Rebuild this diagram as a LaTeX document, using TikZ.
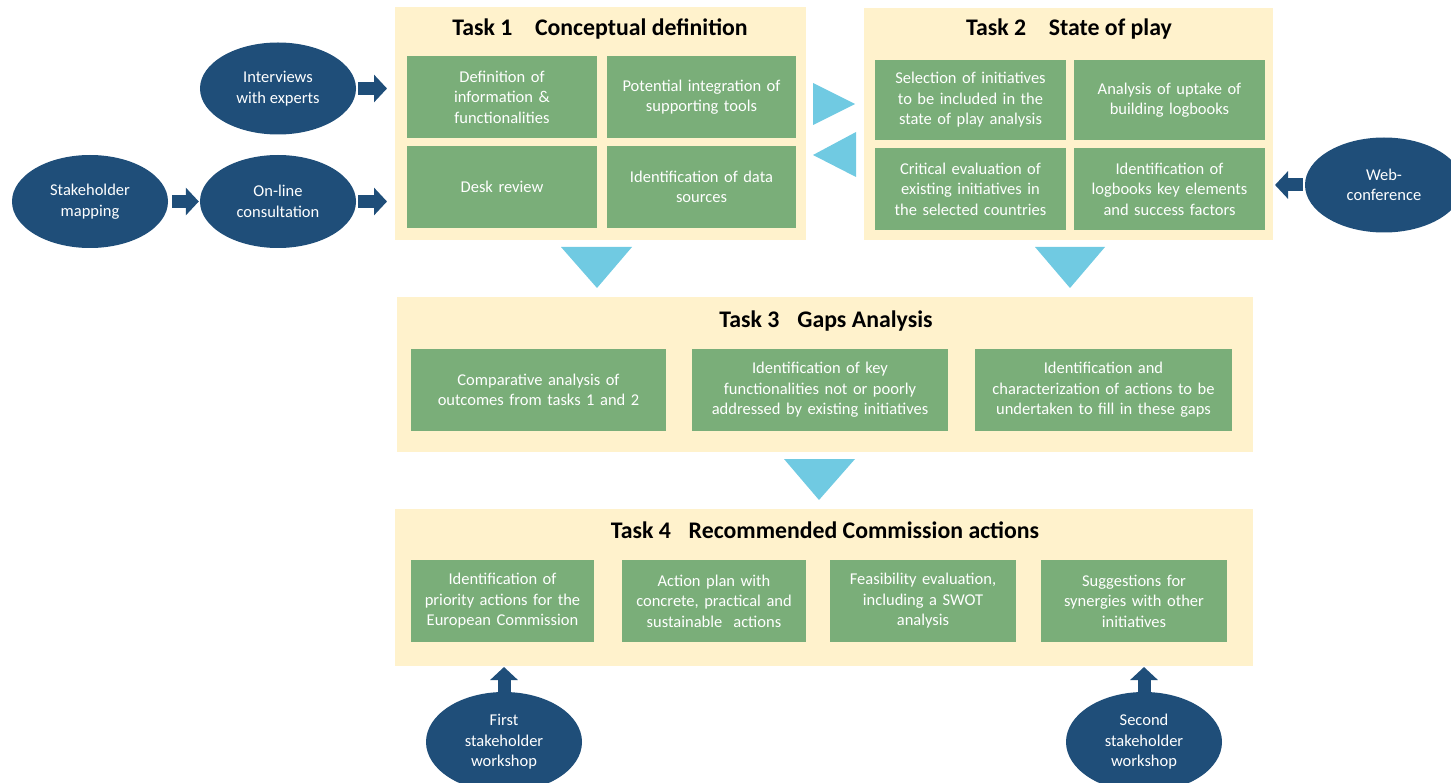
\documentclass[tikz,border=0pt]{standalone}
\usepackage{fontspec}
\setmainfont{Carlito}
\usetikzlibrary{arrows.meta,positioning,shapes.geometric}
\definecolor{taskbg}{HTML}{FFF2CC}
\definecolor{subgreen}{HTML}{7AAE79}
\definecolor{srcblue}{HTML}{1F4E79}
\definecolor{flowcyan}{HTML}{70CAE2}
\tikzset{
  taskbox/.style={fill=taskbg,anchor=north west,inner sep=0pt,outer sep=0pt},
  tasktitle/.style={font=\bfseries\fontsize{23.8}{28}\selectfont,text=black,inner sep=0pt,anchor=base},
  subbox/.style={fill=subgreen,text=white,align=center,anchor=north west,inner xsep=5pt,inner ysep=0pt,outer sep=0pt,minimum height=82pt,font=\fontsize{16.5}{20.5}\selectfont},
  source/.style={ellipse,fill=srcblue,text=white,align=center,inner sep=0pt,minimum width=156pt,minimum height=92pt,font=\fontsize{16.5}{20.5}\selectfont},
  blockarrow/.style={-{Triangle[length=13pt,width=27pt]},line width=13pt,draw=srcblue},
  flowtri/.style={fill=flowcyan}
}

\begin{document}
\begin{tikzpicture}[x=1pt,y=-1pt]
  \useasboundingbox (0,0) rectangle (1451,783);

  % task frames
  \node (task1) [taskbox,minimum width=411pt,minimum height=233pt] at (395,7) {};
  \node (task2) [taskbox,minimum width=409pt,minimum height=232pt] at (864,8) {};
  \node (task3) [taskbox,minimum width=856pt,minimum height=155pt] at (397,297) {};
  \node (task4) [taskbox,minimum width=858pt,minimum height=157pt] at (395,509) {};

  \node (title1) [tasktitle] at (600,35.5) {Task 1\hspace{0.95em}Conceptual definition};
  \node (title2) [tasktitle] at (1069,35.5) {Task 2\hspace{0.95em}State of play};
  \node (title3) [tasktitle] at (826,327.5) {Task 3\hspace{0.75em}Gaps Analysis};
  \node (title4) [tasktitle] at (825,538.5) {Task 4\hspace{0.75em}Recommended Commission actions};

  % task 1
  \node (definfo) [subbox,text width=180pt] at (407,56) {Definition of\\information \&\\functionalities};
  \node (integ) [subbox,text width=179pt] at (607,56) {Potential integration of\\supporting tools};
  \node (desk) [subbox,text width=180pt] at (407,146) {Desk review};
  \node (datasrc) [subbox,text width=179pt] at (607,146) {Identification of data\\sources};

  % task 2
  \node (select) [subbox,text width=181pt,minimum height=80pt] at (875,60) {Selection of initiatives\\to be included in the\\state of play analysis};
  \node (uptake) [subbox,text width=181pt,minimum height=80pt] at (1074,60) {Analysis of uptake of\\building logbooks};
  \node (critic) [subbox,text width=181pt] at (875,148) {Critical evaluation of\\existing initiatives in\\the selected countries};
  \node (keyelem) [subbox,text width=181pt] at (1074,148) {Identification of\\logbooks key elements\\and success factors};

  % task 3
  \node (compar) [subbox,text width=245pt] at (411,349) {Comparative analysis of\\outcomes from tasks 1 and 2};
  \node (keyfunc) [subbox,text width=246pt] at (692,349) {Identification of key\\functionalities not or poorly\\addressed by existing initiatives};
  \node (charact) [subbox,text width=247pt] at (975,349) {Identification and\\characterization of actions to be\\undertaken to fill in these gaps};

  % task 4
  \node (priority) [subbox,text width=173pt] at (411,560) {Identification of\\priority actions for the\\European Commission};
  \node (actplan) [subbox,text width=174pt] at (622,560) {Action plan with\\concrete, practical and\\sustainable\ \ actions};
  \node (feasib) [subbox,text width=176pt] at (830,560) {Feasibility evaluation,\\including a SWOT\\analysis};
  \node (synerg) [subbox,text width=176pt] at (1041,560) {Suggestions for\\synergies with other\\initiatives};

  % inputs
  \node (interv) [source] at (278,88.5) {Interviews\\with experts};
  \node (stake) [source,minimum height=93pt] at (90,201.5) {Stakeholder\\mapping};
  \node (online) [source,minimum height=93pt] at (278,201.5) {On-line\\consultation};
  \node (webconf) [source,minimum width=158pt,minimum height=95pt] at (1384,185) {Web-\\conference};
  \node (work1) [source,minimum width=156pt,minimum height=100pt] at (504,742) {First\\stakeholder\\workshop};
  \node (work2) [source,minimum width=156pt,minimum height=100pt] at (1144,742) {Second\\stakeholder\\workshop};

  \draw[blockarrow,shorten <=2pt,shorten >=8pt] (interv) -- (interv -| task1.west);
  \draw[blockarrow,shorten <=2pt,shorten >=8pt] (online) -- (online -| task1.west);
  \draw[blockarrow,shorten <=4pt,shorten >=1pt] (stake) -- (online);
  \draw[blockarrow,shorten <=2pt,shorten >=2pt] (webconf) -- (webconf -| task2.east);
  \draw[blockarrow,shorten >=1pt] (work1) -- (work1 |- task4.south);
  \draw[blockarrow,shorten >=1pt] (work2) -- (work2 |- task4.south);

  % flow between tasks
  \fill[flowtri] (813,83) -- (855,104) -- (813,125) -- cycle;
  \fill[flowtri] (856,132) -- (813,155) -- (856,177) -- cycle;
  \fill[flowtri] (561,247) -- (632,247) -- (597,288) -- cycle;
  \fill[flowtri] (1035,247) -- (1105,247) -- (1070,288) -- cycle;
  \fill[flowtri] (784,459) -- (855,459) -- (819,500) -- cycle;
\end{tikzpicture}
\end{document}
